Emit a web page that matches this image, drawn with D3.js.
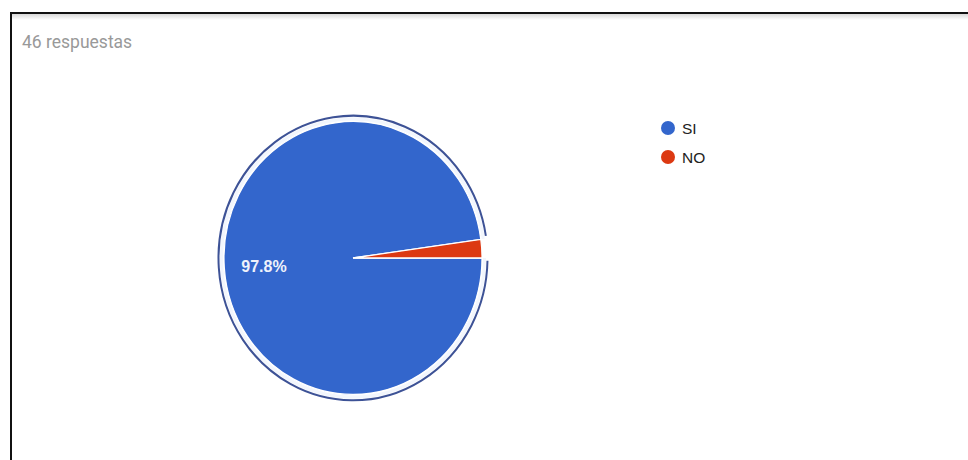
<!DOCTYPE html>
<html>
<head>
<meta charset="utf-8">
<script src="https://cdn.jsdelivr.net/npm/d3@7/dist/d3.min.js"></script>
<style>
  html, body { margin: 0; padding: 0; background: #fff; }
  svg { display: block; }
</style>
</head>
<body>
<svg id="chart" width="968" height="460"></svg>
<script>
const title = "46 respuestas";
const categories = ["SI", "NO"];
const values = [45, 1];
const colors = ["#3366cc", "#dc3912"];

const svg = d3.select("#chart");
const W = 968, H = 460;

// frame
svg.append("rect").attr("x", 0).attr("y", 0).attr("width", W).attr("height", H).attr("fill", "#fff");
const grad = svg.append("defs").append("linearGradient").attr("id", "shade").attr("x1", 0).attr("y1", 0).attr("x2", 0).attr("y2", 1);
grad.append("stop").attr("offset", "0%").attr("stop-color", "#d8d8d8");
grad.append("stop").attr("offset", "100%").attr("stop-color", "#ffffff");
svg.append("rect").attr("x", 11).attr("y", 14).attr("width", W - 11).attr("height", 6).attr("fill", "url(#shade)");
svg.append("line").attr("x1", 10).attr("x2", W).attr("y1", 13).attr("y2", 13).attr("stroke", "#111").attr("stroke-width", 2);
svg.append("line").attr("x1", 11).attr("x2", 11).attr("y1", 12).attr("y2", H).attr("stroke", "#111").attr("stroke-width", 2);

svg.append("text").attr("x", 22).attr("y", 48).text(title)
  .attr("font-family", "Roboto, 'Noto Sans', sans-serif").attr("font-size", 17.5).attr("fill", "#999");

const total = d3.sum(values);
const pie = d3.pie().sort(null).value(d => d).startAngle(Math.PI / 2).endAngle(Math.PI / 2 + 2 * Math.PI);
const arcsData = pie(values);
const r = 129;
const arc = d3.arc().innerRadius(0).outerRadius(r);

const g = svg.append("g").attr("transform", "translate(353,258) scale(1,1.058)");
g.selectAll("path.slice").data(arcsData).enter().append("path")
  .attr("class", "slice")
  .attr("d", arc)
  .attr("fill", (d, i) => colors[i])
  .attr("stroke", "#fff").attr("stroke-width", 1.2);

// highlight ring around the SI slice
const a0 = arcsData[0];
g.append("path")
  .attr("d", d3.arc()({innerRadius: r + 2.5, outerRadius: r + 2.5, startAngle: a0.startAngle, endAngle: a0.endAngle}))
  .attr("fill", "none").attr("stroke", "#f2f6fd").attr("stroke-width", 3);
g.append("path")
  .attr("d", d3.arc()({innerRadius: r + 5.5, outerRadius: r + 5.5, startAngle: a0.startAngle + 0.02, endAngle: a0.endAngle - 0.02}))
  .attr("fill", "none").attr("stroke", "#3d5296").attr("stroke-width", 2);

// label
const pct = d3.format(".1%")(values[0] / total);
svg.append("text").attr("x", 264).attr("y", 272).attr("text-anchor", "middle")
  .text(pct).attr("font-family", "Arial, 'Liberation Sans', sans-serif").attr("font-size", 16)
  .attr("font-weight", "bold").attr("fill", "#eef2fb");

// legend
const legend = svg.append("g").attr("transform", "translate(668,128)");
const items = legend.selectAll("g").data(categories).enter().append("g")
  .attr("transform", (d, i) => `translate(0,${i * 29})`);
items.append("circle").attr("r", 7).attr("fill", (d, i) => colors[i]);
items.append("text").attr("x", 14).attr("y", 6).text(d => d)
  .attr("font-family", "Arial, 'Liberation Sans', sans-serif").attr("font-size", 15.5).attr("fill", "#222");
</script>
</body>
</html>
